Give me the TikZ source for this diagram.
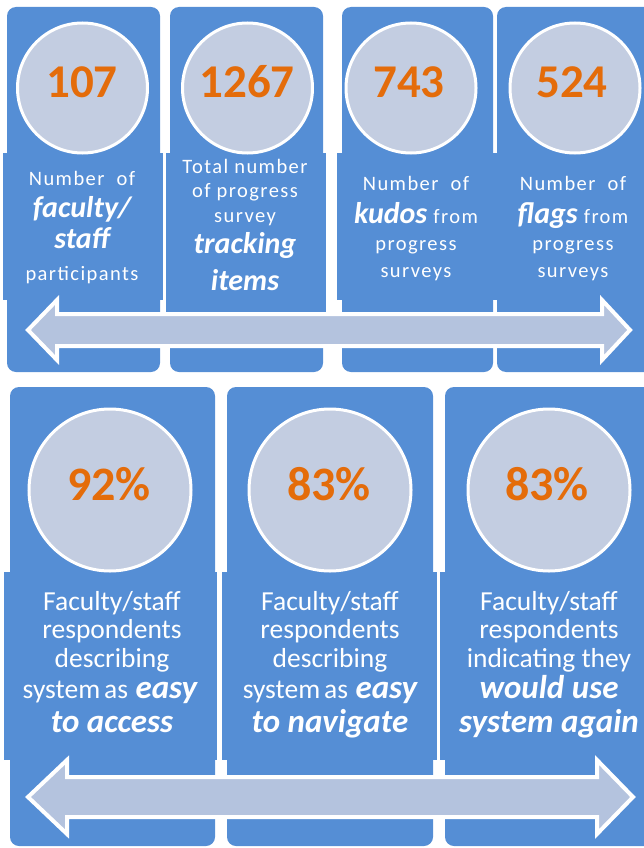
\documentclass[tikz,border=0pt]{standalone}
\usepackage{fontspec}
\setmainfont{Carlito}
\newfontfamily\spc[LetterSpace=7]{Carlito}
\definecolor{panelblue}{RGB}{85,142,213}
\definecolor{circfill}{RGB}{195,205,225}
\definecolor{arrfill}{RGB}{180,195,222}
\definecolor{numorange}{RGB}{228,108,10}
\tikzset{
  panel/.style={fill=panelblue, rounded corners=9pt},
  textband/.style={fill=panelblue},
  bubble/.style={circle, fill=circfill, draw=white, line width=3pt, inner sep=0pt},
  numtop/.style={font=\fontsize{47}{47}\selectfont\bfseries, text=numorange, anchor=base},
  numbot/.style={font=\fontsize{48}{48}\selectfont\bfseries, text=numorange, anchor=base},
  ttop/.style={font=\spc\fontsize{20.5}{20}\selectfont, text=white, anchor=base},
  tbi/.style={font=\fontsize{30}{30}\selectfont\bfseries\itshape, text=white, anchor=base},
  tbot/.style={font=\fontsize{27.5}{28}\selectfont, text=white, anchor=base},
  tbotbi/.style={font=\fontsize{33}{33}\selectfont\bfseries\itshape, text=white, anchor=base},
  bigarrow/.style={fill=arrfill, draw=white, line width=4pt, line join=miter}
}
\begin{document}
\begin{tikzpicture}[x=1pt,y=-1pt]
\useasboundingbox (0,0) rectangle (644,848);
% ---------- top row panels
\fill[panel] (7,7) rectangle (160,372);
\fill[panel] (170,7) rectangle (323,372);
\fill[panel] (342,7) rectangle (493,372);
\fill[panel] (497,7) rectangle (655,372);
\fill[textband] (3,153) rectangle (163,300);
\fill[textband] (166,153) rectangle (326,312);
\fill[textband] (337,153) rectangle (495,300);
\fill[textband] (494,153) rectangle (650,300);
% circles
\node[bubble, minimum size=130pt] (c1) at (82.5,88) {};
\node[bubble, minimum size=130pt] (c2) at (247.5,88) {};
\node[bubble, minimum size=130pt] (c3) at (411,88) {};
\node[bubble, minimum size=130pt] (c4) at (575,88) {};
\node[numtop] (n1) at (82,98) {107};
\node[numtop] (n2) at (247,98) {1267};
\node[numtop] (n3) at (409,98) {743};
\node[numtop] (n4) at (572,98) {524};
% texts top
\node[ttop] (a1) at (82,185) {Number\ \ of};
\node[tbi] (a2) at (82,217) {faculty/};
\node[tbi] (a3) at (82,248) {staff};
\node[ttop] (a4) at (82,280) {participants};
\node[ttop] (b1) at (245,173) {Total number};
\node[ttop] (b2) at (245,197) {of progress};
\node[ttop] (b3) at (245,222) {survey};
\node[tbi] (b4) at (245,253) {tracking};
\node[tbi] (b5) at (245,290) {items};
\node[ttop] (k1) at (416,190) {Number\ \ of};
\node[anchor=base, text=white] (k2) at (416,223) {{\fontsize{30}{30}\selectfont\bfseries\itshape kudos}{\spc\fontsize{20.5}{20}\selectfont\ from}};
\node[ttop] (k3) at (416,250) {progress};
\node[ttop] (k4) at (416,277) {surveys};
\node[ttop] (f1) at (573,190) {Number\ \ of};
\node[anchor=base, text=white] (f2) at (573,223) {{\fontsize{30}{30}\selectfont\bfseries\itshape flags}{\spc\fontsize{20.5}{20}\selectfont\ from}};
\node[ttop] (f3) at (573,250) {progress};
\node[ttop] (f4) at (573,277) {surveys};
% top arrow
\filldraw[bigarrow] (28,330) -- (57,300) -- (57,314) -- (602,314) -- (602,300) -- (630,330) -- (602,360) -- (602,346) -- (57,346) -- (57,360) -- cycle;
% ---------- bottom row panels
\fill[panel] (10,387) rectangle (215,846);
\fill[panel] (227,387) rectangle (433,846);
\fill[panel] (445,387) rectangle (660,846);
\fill[textband] (4,572) rectangle (217,760);
\fill[textband] (222,572) rectangle (437,760);
\fill[textband] (440,572) rectangle (650,760);
\node[bubble, minimum size=162pt] (d1) at (110,490) {};
\node[bubble, minimum size=162pt] (d2) at (330,490) {};
\node[bubble, minimum size=162pt] (d3) at (549,490) {};
\node[numbot] (m1) at (109,500) {92\%};
\node[numbot] (m2) at (329,500) {83\%};
\node[numbot] (m3) at (547,500) {83\%};
% texts bottom
\node[tbot] (p1) at (112,610) {Faculty/staff};
\node[tbot] (p2) at (112,638) {respondents};
\node[tbot] (p3) at (112,667) {describing};
\node[anchor=base, text=white] (p4) at (110,698) {{\fontsize{27.5}{28}\selectfont system\hspace{4pt}as}{\fontsize{33}{33}\selectfont\bfseries\itshape\ easy}};
\node[tbotbi] (p5) at (112,732) {to access};
\node[tbot] (q1) at (330,610) {Faculty/staff};
\node[tbot] (q2) at (330,638) {respondents};
\node[tbot] (q3) at (330,667) {describing};
\node[anchor=base, text=white] (q4) at (330,698) {{\fontsize{27.5}{28}\selectfont system\hspace{4pt}as}{\fontsize{33}{33}\selectfont\bfseries\itshape\ easy}};
\node[tbotbi] (q5) at (330,732) {to navigate};
\node[tbot] (r1) at (549,610) {Faculty/staff};
\node[tbot] (r2) at (549,638) {respondents};
\node[tbot] (r3) at (549,667) {indicating they};
\node[tbotbi] (r4) at (549,698) {would use};
\node[tbotbi] (r5) at (549,732) {system again};
% bottom arrow
\filldraw[bigarrow] (28,797) -- (67,760) -- (67,777) -- (597,777) -- (597,760) -- (633,797) -- (597,834) -- (597,817) -- (67,817) -- (67,834) -- cycle;
\end{tikzpicture}
\end{document}
